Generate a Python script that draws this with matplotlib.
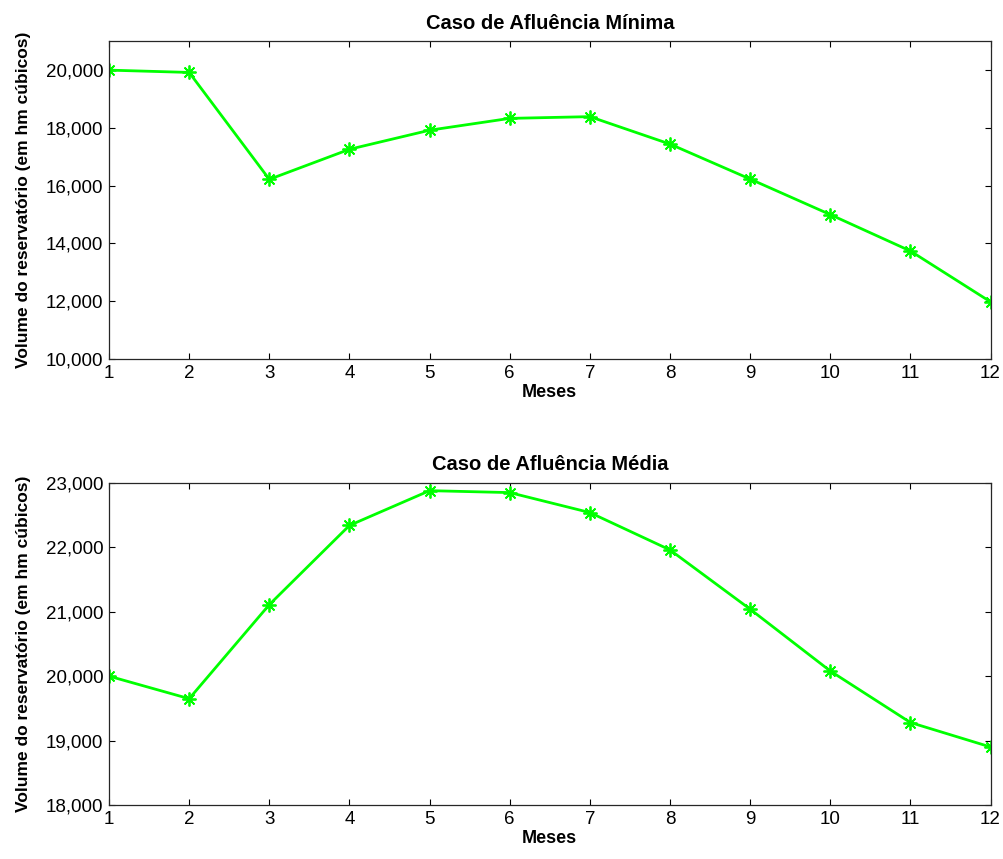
import matplotlib
matplotlib.use("Agg")
import matplotlib.pyplot as plt

plt.rcParams['font.family'] = ['Liberation Sans', 'DejaVu Sans']

# Reservoir volume per month (hm³)
meses = [1, 2, 3, 4, 5, 6, 7, 8, 9, 10, 11, 12]
volume_minima = [20000, 19920, 16220, 17260, 17920, 18330, 18390, 17440, 16230,
                 15000, 13740, 11980]
volume_media = [20000, 19650, 21110, 22340, 22880, 22850, 22540, 21960, 21040,
                20080, 19280, 18900]

ticks_minima = [10000, 12000, 14000, 16000, 18000, 20000]
ticks_media = [18000, 19000, 20000, 21000, 22000, 23000]

verde = (0.0, 1.0, 0.0)

fig = plt.figure(figsize=(10.04, 8.59), dpi=100)
ax1 = fig.add_axes([0.1086, 0.582, 0.878, 0.370])
ax2 = fig.add_axes([0.1086, 0.0629, 0.878, 0.3749])


def desenha(ax, y, titulo, ylim, yticks):
    ax.plot(meses, y, color=verde, linewidth=2.0, marker=(8, 2, 0),
            markersize=10, markeredgewidth=1.3)
    ax.set_xlim(1, 12)
    ax.set_ylim(*ylim)
    ax.set_xticks(meses)
    ax.set_yticks(yticks)
    ax.set_yticklabels([f"{v:,}" for v in yticks])
    ax.tick_params(direction='in', length=4, width=0.8, top=True, right=True,
                   labelsize=13.5, pad=4)
    for s in ax.spines.values():
        s.set_linewidth(0.9)
        s.set_color('#262626')
    ax.set_title(titulo, fontsize=14.5, fontweight='bold', pad=9)
    ax.set_xlabel('Meses', fontsize=13, fontweight='bold', labelpad=2)
    ax.set_ylabel('Volume do reservatório (em hm cúbicos)', fontsize=12.5,
                  fontweight='bold', labelpad=11)


desenha(ax1, volume_minima, 'Caso de Afluência Mínima', (10000, 21000), ticks_minima)
desenha(ax2, volume_media, 'Caso de Afluência Média', (18000, 23000), ticks_media)

fig.savefig('out.png', dpi=100)
